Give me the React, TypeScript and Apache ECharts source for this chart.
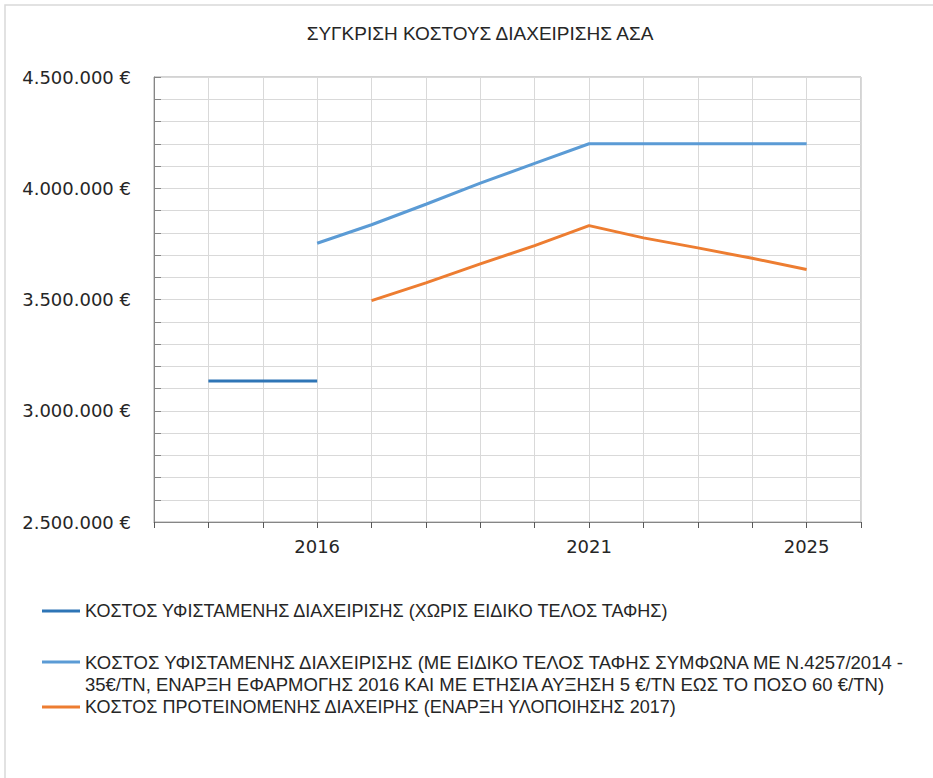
import React, { useEffect, useRef } from "react";
import * as echarts from "echarts";

const years = ["2013", "2014", "2015", "2016", "2017", "2018", "2019", "2020", "2021", "2022", "2023", "2024", "2025", "2026"];
const labeledYears = ["2016", "2021", "2025"];

const nameNoFee = "ΚΟΣΤΟΣ ΥΦΙΣΤΑΜΕΝΗΣ ΔΙΑΧΕΙΡΙΣΗΣ (ΧΩΡΙΣ ΕΙΔΙΚΟ ΤΕΛΟΣ ΤΑΦΗΣ)";
const nameWithFeeLine1 = "ΚΟΣΤΟΣ ΥΦΙΣΤΑΜΕΝΗΣ ΔΙΑΧΕΙΡΙΣΗΣ (ΜΕ ΕΙΔΙΚΟ ΤΕΛΟΣ ΤΑΦΗΣ ΣΥΜΦΩΝΑ ΜΕ Ν.4257/2014 -";
const nameWithFeeLine2 = "35€/ΤΝ, ΕΝΑΡΞΗ ΕΦΑΡΜΟΓΗΣ 2016 ΚΑΙ ΜΕ ΕΤΗΣΙΑ ΑΥΞΗΣΗ 5 €/ΤΝ ΕΩΣ ΤΟ ΠΟΣΟ 60 €/ΤΝ)";
const nameWithFee = nameWithFeeLine1 + " " + nameWithFeeLine2;
const nameProposed = "ΚΟΣΤΟΣ ΠΡΟΤΕΙΝΟΜΕΝΗΣ ΔΙΑΧΕΙΡΗΣ (ΕΝΑΡΞΗ ΥΛΟΠΟΙΗΣΗΣ 2017)";

const existingNoFee = [null, 3134000, 3134000, 3134000, null, null, null, null, null, null, null, null, null, null];
const existingWithFee = [null, null, null, 3753000, 3836000, 3928000, 4023000, 4112000, 4200000, 4200000, 4200000, 4200000, 4200000, null];
const proposed = [null, null, null, null, 3495000, 3575000, 3660000, 3742000, 3832000, 3777000, 3732000, 3685000, 3635000, null];

const fmtEuro = (v: number) => {
  const s = Math.round(v).toString().replace(/\B(?=(\d{3})+(?!\d))/g, ".");
  return s + " €";
};

export default function App() {
  const ref = useRef<HTMLDivElement>(null);
  useEffect(() => {
    if (!ref.current) return;
    const chart = echarts.init(ref.current, undefined, { renderer: "svg" });
    const legendText = {
      fontFamily: "Liberation Sans",
      fontSize: 18,
      color: "#262626",
      lineHeight: 22,
    };
    const legendBase = {
      orient: "vertical",
      left: 42,
      padding: 0,
      icon: "rect",
      itemWidth: 38,
      itemHeight: 3,
      textStyle: legendText,
      selectedMode: false,
    };
    chart.setOption({
      animation: false,
      backgroundColor: "#ffffff",
      title: {
        text: "ΣΥΓΚΡΙΣΗ ΚΟΣΤΟΥΣ ΔΙΑΧΕΙΡΙΣΗΣ ΑΣΑ",
        left: 475,
        top: 19,
        textAlign: "center",
        textStyle: { fontFamily: "Liberation Sans", fontSize: 19, fontWeight: "normal", color: "#262626" },
      },
      graphic: [
        {
          type: "rect",
          shape: { x: 5, y: 5, width: 1000, height: 1000 },
          style: { fill: "none", stroke: "#d9d9d9", lineWidth: 1.5 },
          silent: true,
        },
      ],
      grid: {
        left: 154,
        right: 72,
        top: 77,
        bottom: 256,
        show: true,
        borderColor: "#a6a6a6",
        borderWidth: 1,
        containLabel: false,
      },
      legend: [
        { ...legendBase, data: [nameNoFee], top: 600 },
        {
          ...legendBase,
          data: [nameWithFee],
          top: 629,
          textStyle: { ...legendText, fontSize: 18.5 },
          formatter: () => "\n" + nameWithFeeLine1 + "\n" + nameWithFeeLine2,
        },
        { ...legendBase, data: [nameProposed], top: 696 },
      ],
      xAxis: {
        type: "category",
        data: years,
        boundaryGap: false,
        axisLine: { show: true, lineStyle: { color: "#868686", width: 1 } },
        axisTick: { show: true, interval: 0, length: 6, lineStyle: { color: "#595959" } },
        axisLabel: {
          interval: 0,
          margin: 15,
          fontFamily: "DejaVu Sans",
          fontSize: 18,
          color: "#262626",
          formatter: (v: string) => (labeledYears.indexOf(v) >= 0 ? v : ""),
        },
        splitLine: { show: true, interval: 0, lineStyle: { color: "#d9d9d9", width: 1 } },
      },
      yAxis: {
        type: "value",
        min: 2500000,
        max: 4500000,
        interval: 100000,
        axisLine: { show: true, lineStyle: { color: "#868686", width: 1 } },
        axisTick: { show: true, inside: true, length: 7, lineStyle: { color: "#868686" } },
        axisLabel: {
          margin: 23,
          fontFamily: "DejaVu Sans",
          fontSize: 18,
          color: "#262626",
          formatter: (v: number) => (Math.round(v) % 500000 === 0 ? fmtEuro(v) : ""),
        },
        splitLine: { show: true, lineStyle: { color: "#d9d9d9", width: 1 } },
      },
      series: [
        {
          name: nameNoFee,
          type: "line",
          data: existingNoFee,
          showSymbol: false,
          symbol: "none",
          color: "#2e75b6",
          lineStyle: { color: "#2e75b6", width: 3 },
        },
        {
          name: nameWithFee,
          type: "line",
          data: existingWithFee,
          showSymbol: false,
          symbol: "none",
          color: "#5b9bd5",
          lineStyle: { color: "#5b9bd5", width: 3 },
        },
        {
          name: nameProposed,
          type: "line",
          data: proposed,
          showSymbol: false,
          symbol: "none",
          color: "#ed7d31",
          lineStyle: { color: "#ed7d31", width: 3 },
        },
      ],
    });
    return () => chart.dispose();
  }, []);
  return (
    <div
      ref={ref}
      style={{ position: "absolute", left: 0, top: 0, width: 933, height: 778 }}
    />
  );
}
